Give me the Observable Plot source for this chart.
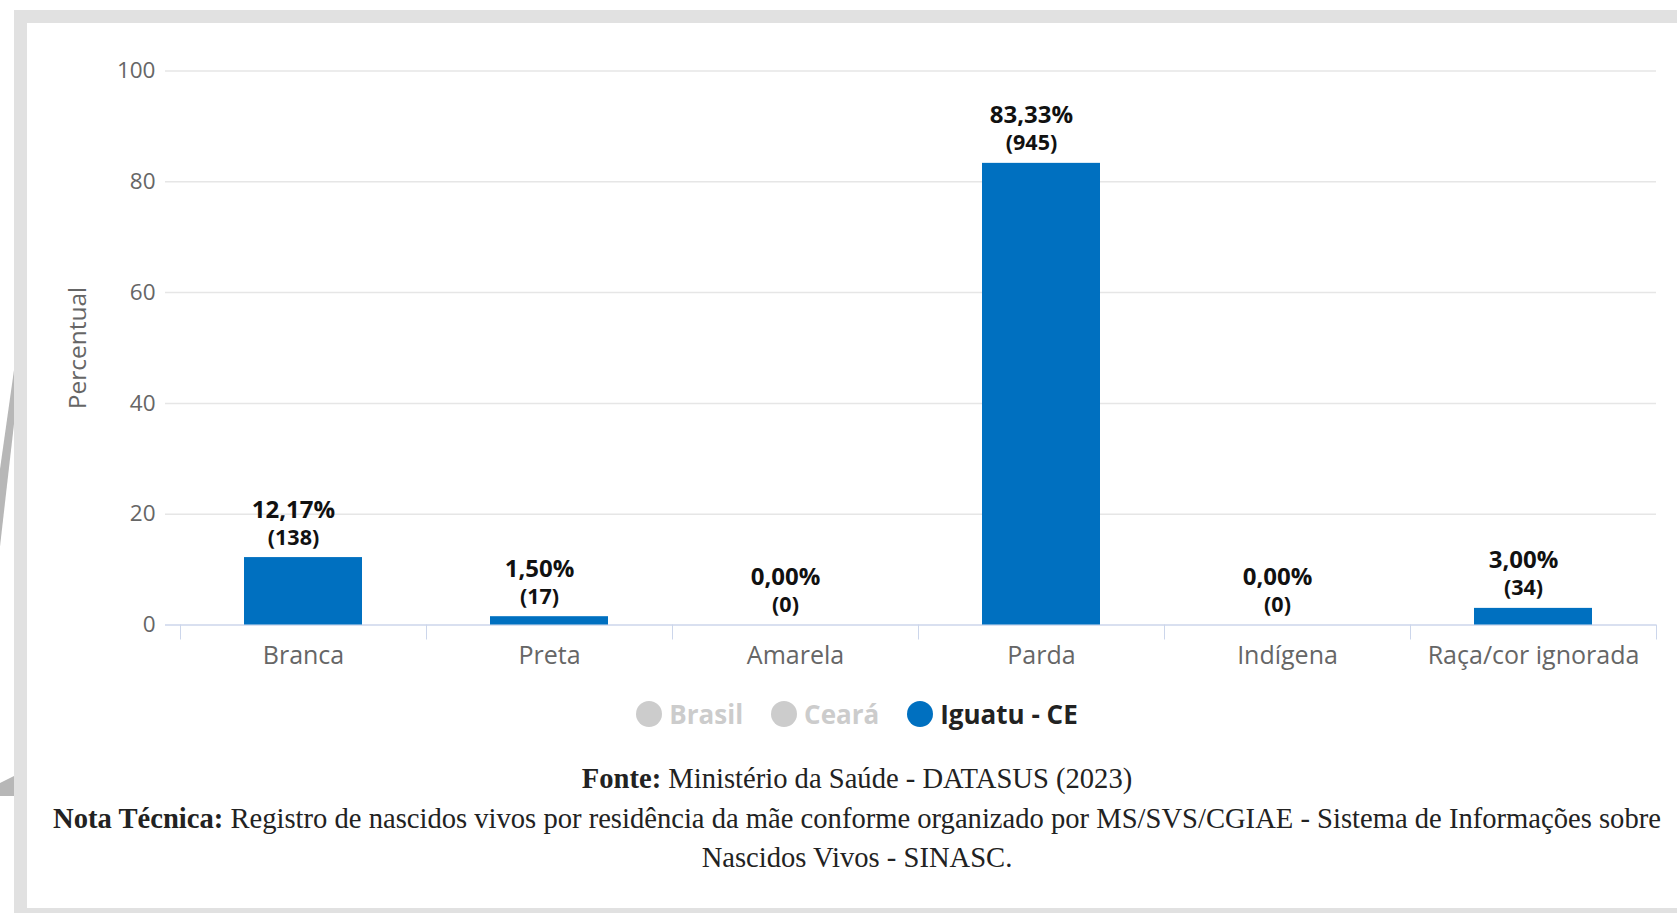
<!DOCTYPE html>
<html>
<head>
<meta charset="utf-8">
<script src="https://cdn.jsdelivr.net/npm/d3@7"></script>
<script src="https://cdn.jsdelivr.net/npm/@observablehq/plot@0.6"></script>
<style>
  html, body { margin: 0; padding: 0; width: 1677px; height: 913px; overflow: hidden; background: #fff; }
  #frame { position: absolute; left: 14px; top: 10px; width: 1700px; height: 911px; box-sizing: border-box;
           border: 13px solid #e1e1e1; border-right: none; background: #fff; }
  .deco1 { position: absolute; left: 0; top: 370px; width: 14px; height: 180px; background: #b7b7b7;
           clip-path: polygon(100% 0%, 100% 30%, 0% 98%, 0% 55%); }
  .deco2 { position: absolute; left: 0; top: 776px; width: 14px; height: 20px; background: #b7b7b7;
           clip-path: polygon(0% 35%, 100% 0%, 100% 100%, 0% 100%); }
  #chart { position: absolute; left: 0; top: 0; }
  #legend { position: absolute; left: 27px; width: 1660px; top: 696px; height: 36px;
            display: flex; justify-content: center; align-items: center; gap: 28px;
            font-family: "Open Sans", sans-serif; font-weight: 700; font-size: 26px; }
  #legend .item { display: flex; align-items: center; gap: 7px; }
  #legend .dot { width: 26px; height: 26px; border-radius: 50%; }
  #footer { position: absolute; left: 27px; width: 1660px; top: 759px; text-align: center;
            font-family: "Liberation Serif", serif; font-size: 28.6px; line-height: 39.5px; color: #222; }
  #footer div { white-space: nowrap; }
</style>
</head>
<body>
<div id="frame"></div>
<div class="deco1"></div>
<div class="deco2"></div>
<div id="chart"></div>
<div id="legend"></div>
<div id="footer"></div>
<script>
const categories = ["Branca", "Preta", "Amarela", "Parda", "Indígena", "Raça/cor ignorada"];
const percentages = [12.17, 1.50, 0.00, 83.33, 0.00, 3.00];
const counts = [138, 17, 0, 945, 0, 34];
const yTicks = [0, 20, 40, 60, 80, 100];
const seriesNames = ["Brasil", "Ceará", "Iguatu - CE"];
const activeSeries = "Iguatu - CE";
const yLabel = "Percentual";
const sourceLabel = "Fonte:";
const sourceText = "Ministério da Saúde - DATASUS (2023)";
const noteLabel = "Nota Técnica:";
const noteLine1 = "Registro de nascidos vivos por residência da mãe conforme organizado por MS/SVS/CGIAE - Sistema de Informações sobre";
const noteLine2 = "Nascidos Vivos - SINASC.";

const barColor = "#0070c0";
const data = categories.map((c, i) => ({cat: c, pct: percentages[i], n: counts[i]}));
const fmtPct = v => d3.format(".2f")(v).replace(".", ",") + "%";

const W = 1677, H = 690;
const xRange = [180, 1656];
const step = (xRange[1] - xRange[0]) / categories.length;

const chart = Plot.plot({
  width: W,
  height: H,
  marginLeft: 165,
  marginRight: 21,
  marginTop: 70.5,
  marginBottom: H - 624.5,
  style: {background: "transparent", fontFamily: "Open Sans, sans-serif"},
  x: {domain: categories, range: xRange, padding: 0},
  y: {domain: [0, 100]},
  marks: [
    Plot.ruleY(yTicks.filter(t => t > 0), {stroke: "#e6e6e6", strokeWidth: 1.5}),
    Plot.ruleY([0], {stroke: "#ccd6eb", strokeWidth: 1.5}),
    Plot.axisY({ticks: yTicks, tickSize: 0, tickPadding: 10, fontSize: 22.5, color: "#666", label: null}),
    Plot.text([yLabel], {frameAnchor: "left", dx: -97, rotate: -90, lineAnchor: "top", textAnchor: "middle",
                         fontSize: 24.5, fill: "#666"}),
    Plot.axisX({tickSize: 0, tickPadding: 21, fontSize: 25, color: "#666", label: null}),
    Plot.axisX({tickSize: 15, tickFormat: () => "", dx: -step / 2, stroke: "#ccd6eb", label: null}),
    Plot.axisX({ticks: [categories[categories.length - 1]], tickSize: 15, tickFormat: () => "", dx: step / 2, stroke: "#ccd6eb", label: null}),
    Plot.barY(data, {x: "cat", y: "pct", fill: barColor, insetLeft: 64, insetRight: 64}),
    Plot.text(data, {x: "cat", y: "pct", text: d => fmtPct(d.pct), dx: -10, dy: -40, lineAnchor: "bottom",
                     fontSize: 24, fontWeight: 700, fill: "#111"}),
    Plot.text(data, {x: "cat", y: "pct", text: d => "(" + d.n + ")", dx: -10, dy: -13, lineAnchor: "bottom",
                     fontSize: 21.5, fontWeight: 700, fill: "#111"})
  ]
});
document.getElementById("chart").appendChild(chart);

const legend = document.getElementById("legend");
seriesNames.forEach(name => {
  const active = name === activeSeries;
  const item = document.createElement("div");
  item.className = "item";
  const dot = document.createElement("span");
  dot.className = "dot";
  dot.style.background = active ? barColor : "#cccccc";
  const label = document.createElement("span");
  label.textContent = name;
  label.style.color = active ? "#222" : "#cccccc";
  item.appendChild(dot);
  item.appendChild(label);
  legend.appendChild(item);
});

const footer = document.getElementById("footer");
function line(boldText, rest) {
  const div = document.createElement("div");
  if (boldText) {
    const b = document.createElement("b");
    b.textContent = boldText;
    div.appendChild(b);
    div.appendChild(document.createTextNode(" " + rest));
  } else {
    div.textContent = rest;
  }
  footer.appendChild(div);
}
line(sourceLabel, sourceText);
line(noteLabel, noteLine1);
line(null, noteLine2);
</script>
</body>
</html>
